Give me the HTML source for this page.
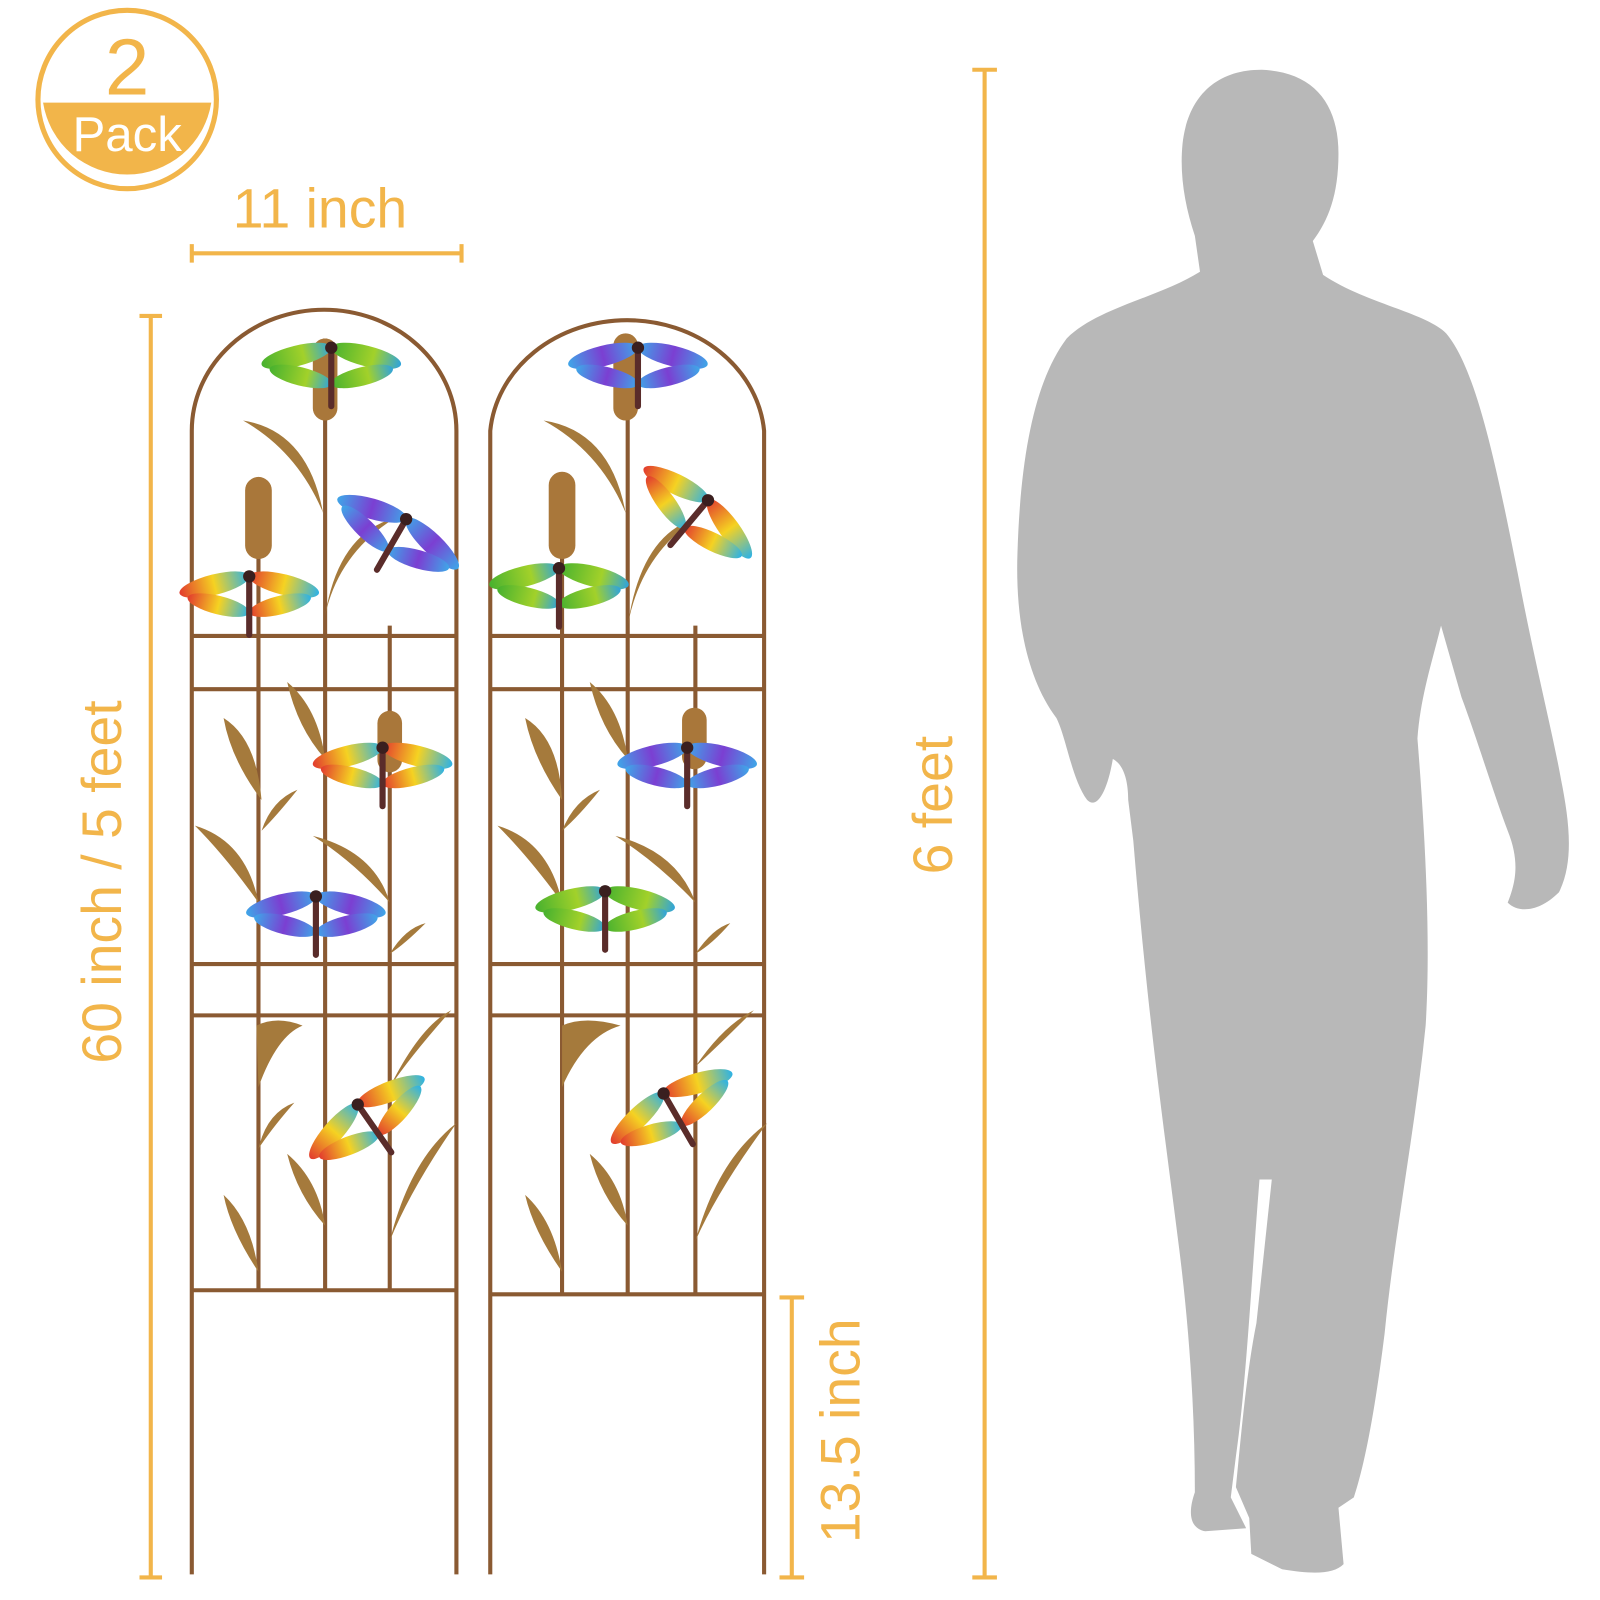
<!DOCTYPE html>
<html><head><meta charset="utf-8"><style>
html,body{margin:0;padding:0;background:#fff;width:1600px;height:1600px;overflow:hidden}
svg{display:block}
text{font-family:"Liberation Sans",sans-serif}
</style></head><body>
<svg width="1600" height="1600" viewBox="0 0 1560 1560" xmlns="http://www.w3.org/2000/svg">
<defs>
<linearGradient id="wA" x1="0" x2="1"><stop offset="0" stop-color="#e23b2e"/><stop offset=".5" stop-color="#f5d222"/><stop offset="1" stop-color="#2db2e6"/></linearGradient>
<linearGradient id="wB" x1="0" x2="1"><stop offset="0" stop-color="#3fa6e8"/><stop offset=".5" stop-color="#7b3fd2"/><stop offset="1" stop-color="#3fa6e8"/></linearGradient>
<linearGradient id="wC" x1="0" x2="1"><stop offset="0" stop-color="#47b12f"/><stop offset=".6" stop-color="#a2d12a"/><stop offset="1" stop-color="#2fa3dd"/></linearGradient>
<g id="df">
<ellipse cx="-34" cy="-8" rx="35" ry="10" fill="inherit" transform="rotate(-14 -34 -8)"/>
<ellipse cx="34" cy="-8" rx="35" ry="10" fill="inherit" transform="rotate(14 34 -8)"/>
<ellipse cx="-30" cy="12" rx="31" ry="9" fill="inherit" transform="rotate(14 -30 12)"/>
<ellipse cx="30" cy="12" rx="31" ry="9" fill="inherit" transform="rotate(-14 30 12)"/>
<rect x="-3" y="-16" width="6" height="60" rx="3" fill="#5a2c2a"/>
<circle cx="0" cy="-16" r="6" fill="#3a1f1f"/>
</g>
</defs>

<g>
<circle cx="124" cy="97" r="87" fill="#fff" stroke="#f2b54a" stroke-width="5"/>
<path d="M42,100 A83,83 0 0 0 206,100 Z" fill="#f2b54a"/>
<text x="124" y="92" text-anchor="middle" font-size="78" fill="#f2b54a">2</text>
<text x="124" y="147" text-anchor="middle" font-size="48" fill="#fff">Pack</text>
</g>

<g stroke="#f2b54a" stroke-width="4" fill="none">
<path d="M187,247H450M187,238V256M450,238V256"/>
<path d="M147,308V1538M136,308H158M136,1538H158"/>
<path d="M960,68V1538M948,68H972M948,1538H972"/>
<path d="M772,1265V1538M760,1265H784M760,1538H784"/>
</g>
<g fill="#f2b54a" font-size="54">
<text x="312" y="222" text-anchor="middle">11 inch</text>
<text transform="translate(118,860) rotate(-90)" text-anchor="middle">60 inch / 5 feet</text>
<text transform="translate(928,785) rotate(-90)" text-anchor="middle">6 feet</text>
<text transform="translate(838,1395) rotate(-90)" text-anchor="middle">13.5 inch</text>
</g>

<path fill="#b8b8b8" d="M1230,68 C1280,70 1305,100 1305,150 C1305,190 1295,215 1280,235 L1290,268 C1330,295 1390,305 1410,325 C1440,360 1460,460 1480,560 C1495,640 1515,720 1522,760 C1530,800 1535,840 1520,870 C1500,890 1480,890 1470,880 C1478,860 1482,840 1470,810 C1455,770 1440,720 1425,680 L1405,610 C1395,650 1385,680 1382,720 C1390,820 1395,920 1390,1000 C1380,1100 1360,1200 1350,1300 C1340,1380 1330,1430 1320,1460 L1305,1470 L1310,1525 C1300,1535 1280,1535 1250,1530 L1220,1515 L1218,1480 L1205,1450 C1210,1400 1215,1340 1225,1290 L1240,1150 L1228,1150 C1220,1250 1215,1350 1205,1420 L1200,1460 L1215,1490 L1175,1493 C1160,1490 1158,1475 1165,1455 C1165,1380 1160,1300 1150,1220 C1135,1100 1120,1000 1105,820 L1100,780 C1100,760 1095,745 1085,740 C1080,770 1070,790 1060,780 C1045,760 1040,720 1030,700 C1000,660 990,600 992,540 C995,440 1010,370 1040,330 C1070,300 1130,290 1170,265 L1165,230 C1155,200 1150,170 1153,140 C1158,95 1185,68 1230,68 Z"/>

<g>
<g stroke="#8a5a32" stroke-width="4" fill="none">
<path d="M187,1535V420 A129,118 0 0 1 445,420 V1535"/>
<path d="M252,540V1258M317,330V1258M380,610V1258"/>
<path d="M187,620H445M187,672H445M187,940H445M187,990H445M187,1258H445"/>
</g>
<g fill="#a57a3c">
<path d="M237,410 Q300,420 315,500 Q290,440 237,410Z"/><path d="M317,600 Q330,520 385,505 Q330,540 317,600Z"/>
<path d="M218,700 Q250,720 255,780 Q225,740 218,700Z"/><path d="M280,665 Q310,690 317,740 Q290,710 280,665Z"/>
<path d="M190,805 Q240,820 252,880 Q220,835 190,805Z"/><path d="M305,815 Q365,830 380,880 Q345,840 305,815Z"/>
<path d="M255,810 Q265,780 290,770 Q270,795 255,810Z"/><path d="M380,930 Q395,905 415,900 Q395,920 380,930Z"/>
<path d="M250,1000 Q270,990 295,1000 Q270,1010 252,1060Z"/><path d="M380,1060 Q410,1000 440,985 Q400,1030 380,1060Z"/>
<path d="M218,1165 Q245,1190 252,1240 Q225,1200 218,1165Z"/><path d="M280,1125 Q310,1150 317,1195 Q290,1165 280,1125Z"/>
<path d="M380,1210 Q400,1130 445,1095 Q400,1160 380,1210Z"/><path d="M252,1120 Q260,1085 287,1075 Q265,1100 252,1120Z"/>
<rect x="239" y="465" width="26" height="80" rx="13" fill="#a9773a"/>
<rect x="305" y="330" width="24" height="80" rx="12" fill="#a9773a"/>
<rect x="368" y="693" width="24" height="60" rx="12" fill="#a9773a"/>
</g>
<use href="#df" x="323" y="355" fill="url(#wC)"/>
<use href="#df" x="388" y="520" fill="url(#wB)" transform="rotate(30 388 520)"/>
<use href="#df" x="243" y="578" fill="url(#wA)"/>
<use href="#df" x="373" y="745" fill="url(#wA)"/>
<use href="#df" x="308" y="890" fill="url(#wB)"/>
<use href="#df" x="358" y="1090" fill="url(#wA)" transform="rotate(-35 358 1090)"/>
</g>

<g>
<g stroke="#8a5a32" stroke-width="4" fill="none">
<path d="M478,1535V420 A134,118 0 0 1 745,420 V1535"/>
<path d="M548,540V1262M612,330V1262M678,610V1262"/>
<path d="M478,620H745M478,672H745M478,940H745M478,990H745M478,1262H745"/>
</g>
<g fill="#a57a3c">
<path d="M530,410 Q595,420 610,500 Q585,440 530,410Z"/><path d="M612,610 Q625,520 680,505 Q625,540 612,610Z"/>
<path d="M512,700 Q545,720 548,780 Q520,740 512,700Z"/><path d="M575,665 Q605,690 612,740 Q585,710 575,665Z"/>
<path d="M485,805 Q535,820 548,880 Q515,835 485,805Z"/><path d="M600,815 Q660,830 678,880 Q640,840 600,815Z"/>
<path d="M548,810 Q560,780 585,770 Q565,795 548,810Z"/><path d="M678,930 Q695,905 712,900 Q695,920 678,930Z"/>
<path d="M548,1000 Q570,990 605,1000 Q570,1010 548,1060Z"/><path d="M678,1040 Q705,1000 735,985 Q700,1020 678,1040Z"/>
<path d="M512,1165 Q540,1190 548,1240 Q520,1200 512,1165Z"/><path d="M575,1125 Q605,1150 612,1195 Q585,1165 575,1125Z"/>
<path d="M678,1210 Q700,1130 748,1095 Q700,1160 678,1210Z"/>
<rect x="535" y="460" width="26" height="85" rx="13" fill="#a9773a"/>
<rect x="598" y="325" width="24" height="85" rx="12" fill="#a9773a"/>
<rect x="665" y="690" width="24" height="60" rx="12" fill="#a9773a"/>
</g>
<use href="#df" x="622" y="355" fill="url(#wB)"/>
<use href="#df" x="680" y="500" fill="url(#wA)" transform="rotate(40 680 500)"/>
<use href="#df" x="545" y="570" fill="url(#wC)"/>
<use href="#df" x="670" y="745" fill="url(#wB)"/>
<use href="#df" x="590" y="885" fill="url(#wC)"/>
<use href="#df" x="655" y="1080" fill="url(#wA)" transform="rotate(-30 655 1080)"/>
</g>
</svg>
</body></html>
